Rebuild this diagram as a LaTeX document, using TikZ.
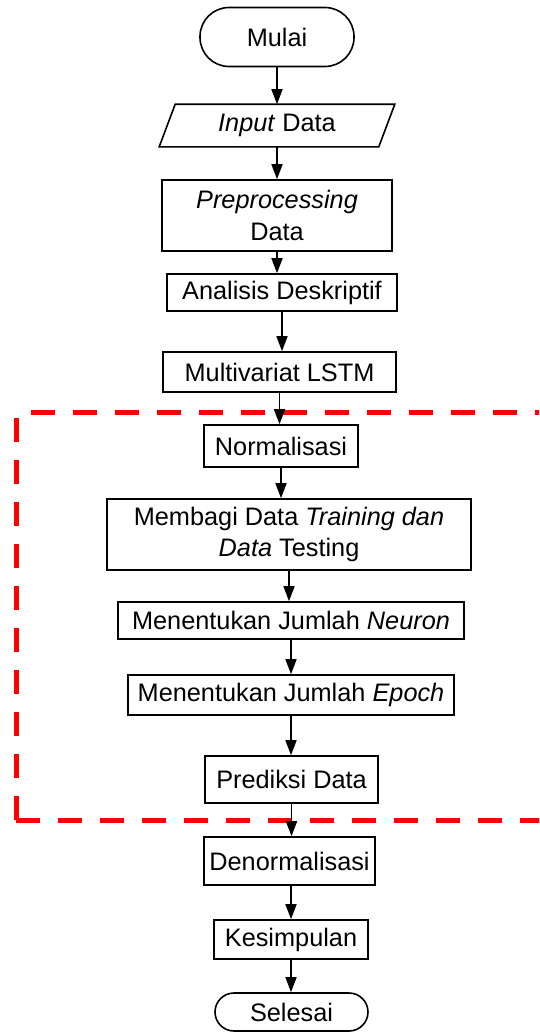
\documentclass[tikz,border=0pt]{standalone}
\usepackage{fontspec}
\setmainfont{Liberation Sans}
\usetikzlibrary{arrows.meta,calc}
\begin{document}
\begin{tikzpicture}[x=1pt,y=-1pt,
  box/.style={draw=black,line width=1.6pt,inner sep=0pt,align=center,
    font=\fontsize{25.3}{31.5}\selectfont},
  term/.style={box,rounded corners=#1},
  arr/.style={line width=1.6pt,-{Triangle[width=11pt,length=15pt]}},
  zone/.style={draw=red,line width=5pt,dash pattern=on 24pt off 18pt}]
\clip (0,0) rectangle (539,1033);
\fill[white] (0,0) rectangle (539,1033);
% dashed zone
\draw[zone,dash phase=-15pt] (16,412) -- (560,412);
\draw[zone] (16,820) -- (16,415);
\draw[zone] (16,820) -- (560,820);
% nodes
\node[term=29pt,minimum width=154pt,minimum height=59pt] (mulai) at (277,37) {Mulai};
\node[box,draw=none,minimum width=218pt,minimum height=41pt] (inp) at (277,125.5) {\textit{Input} Data};
\draw[line width=1.6pt] ($(inp.north west)+(8,0)$) -- ($(inp.north east)+(8,0)$) -- ($(inp.south east)+(-8,0)$) -- ($(inp.south west)+(-8,0)$) -- cycle;
\node[box,minimum width=230pt,minimum height=71pt] (pre) at (277,215.5) {\textit{Preprocessing}\\Data};
\node[box,minimum width=230pt,minimum height=37pt] (ana) at (282,292.5) {Analisis Deskriptif};
\node[box,minimum width=233pt,minimum height=40pt] (mlstm) at (279.5,372) {Multivariat LSTM};
\node[box,minimum width=154pt,minimum height=42pt] (norm) at (281,446) {Normalisasi};
\node[box,minimum width=364pt,minimum height=71pt] (bagi) at (289,534.5) {Membagi Data \textit{Training dan}\\\textit{Data} Testing};
\node[box,minimum width=346pt,minimum height=37pt] (neuron) at (291,620.5) {Menentukan Jumlah \textit{Neuron}};
\node[box,minimum width=326pt,minimum height=40pt] (epoch) at (291,695) {Menentukan Jumlah \textit{Epoch}};
\node[box,minimum width=173pt,minimum height=47pt] (pred) at (291.5,779.5) {Prediksi Data};
\node[box,minimum width=171pt,minimum height=48pt] (denorm) at (289.5,861) {Denormalisasi};
\node[box,minimum width=154pt,minimum height=39pt] (kes) at (291,939.5) {Kesimpulan};
\node[term=19pt,minimum width=153pt,minimum height=38pt] (sel) at (291.5,1012) {Selesai};
% arrows
\draw[arr] (mulai.south) -- (mulai.south |- inp.north);
\draw[arr] (inp.south) -- (inp.south |- pre.north);
\draw[arr] (pre.south) -- (pre.south |- ana.north);
\draw[arr] (ana.south) -- (ana.south |- mlstm.north);
\draw[arr] (mlstm.south) -- (mlstm.south |- norm.north);
\draw[arr] (norm.south) -- (norm.south |- bagi.north);
\draw[arr] (bagi.south) -- (bagi.south |- neuron.north);
\draw[arr] (neuron.south) -- (neuron.south |- epoch.north);
\draw[arr] (epoch.south) -- (epoch.south |- pred.north);
\draw[arr] (pred.south) -- (pred.south |- denorm.north);
\draw[arr] (denorm.south -| kes.north) -- (kes.north);
\draw[arr] (kes.south) -- (kes.south |- sel.north);
\end{tikzpicture}
\end{document}
